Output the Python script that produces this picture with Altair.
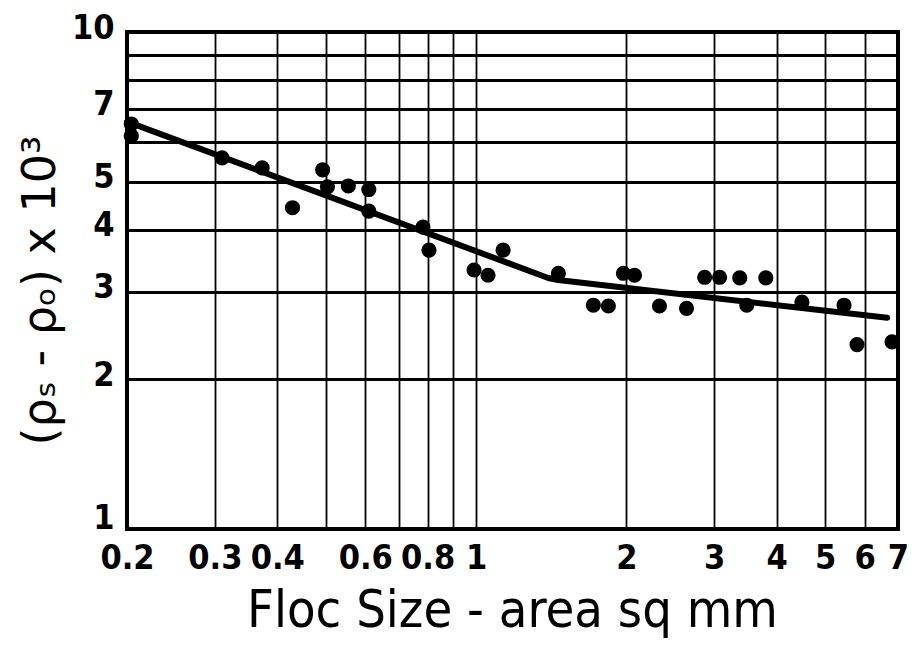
import altair as alt
import pandas as pd

# data
x_pts = [0.204, 0.204, 0.310, 0.373, 0.429, 0.493, 0.504, 0.555, 0.610, 0.610,
         0.783, 0.805, 0.991, 1.057, 1.133, 1.462, 1.718, 1.841, 1.973, 2.077,
         2.330, 2.640, 2.870, 3.075, 3.374, 3.805, 3.485, 4.494, 5.458, 5.795, 6.81]
y_pts = [6.53, 6.18, 5.58, 5.33, 4.43, 5.28, 4.88, 4.90, 4.82, 4.36,
         4.05, 3.64, 3.32, 3.24, 3.64, 3.27, 2.82, 2.81, 3.27, 3.24,
         2.81, 2.78, 3.21, 3.21, 3.20, 3.20, 2.82, 2.86, 2.82, 2.35, 2.38]

line_x = [0.2, 1.395, 1.46, 6.66]
line_y = [6.6, 3.20, 3.17, 2.66]

x_grid = [0.2, 0.3, 0.4, 0.5, 0.6, 0.7, 0.8, 0.9, 1, 2, 3, 4, 5, 6, 7]
x_unlabeled = [0.5, 0.7, 0.9]
y_grid = [1, 2, 3, 4, 5, 6, 7, 8, 9, 10]
y_unlabeled = [6, 8, 9]

pts = pd.DataFrame({"x": x_pts, "y": y_pts})
ln = pd.DataFrame({"x": line_x, "y": line_y, "o": list(range(len(line_x)))})

FONT_T = "DejaVu Sans Condensed"
xs = alt.Scale(type="log", domain=[0.2, 7], nice=False, zero=False)
ys = alt.Scale(type="log", domain=[1, 10], nice=False, zero=False)

xaxis = alt.Axis(
    values=x_grid, format="~g",
    labelExpr="indexof([0.5,0.7,0.9], datum.value) >= 0 ? '' : datum.label",
    title="Floc Size - area sq mm", titleFont="DejaVu Sans Condensed",
    titleFontSize=52, titleFontWeight="normal", titleColor="black",
    titleX=385, titleY=97, titleBaseline="alphabetic", titleAnchor="middle",
    labelFont=FONT_T, labelFontSize=34, labelFontWeight="bold", labelColor="black",
    labelPadding=12, labelFlush=False, labelOverlap=False,
    grid=True, gridColor="black", gridWidth=1.8, gridOpacity=1,
    ticks=False, domain=False,
)
yaxis = alt.Axis(
    values=y_grid, format="~g",
    labelExpr="indexof([6,8,9], datum.value) >= 0 ? '' : datum.label",
    title="(ρₛ - ρₒ) x 10³", titleFont="DejaVu Sans",
    titleFontSize=46, titleFontWeight="normal", titleColor="black",
    titleX=-87, titleY=258, titleAngle=-90, titleBaseline="middle", titleAlign="center",
    labelFont=FONT_T, labelFontSize=34, labelFontWeight="bold", labelColor="black",
    labelPadding=13,
    labelOffset={"condition": {"test": "datum.value == 1", "value": -11}, "value": -4},
    labelFlush=False, labelOverlap=False, labelBaseline="middle",
    grid=True, gridColor="black", gridWidth=2.8, gridOpacity=1,
    ticks=False, domain=False,
)

line = alt.Chart(ln).mark_line(color="black", strokeWidth=6, strokeJoin="round", strokeCap="round").encode(
    x=alt.X("x:Q", scale=xs, axis=xaxis),
    y=alt.Y("y:Q", scale=ys, axis=yaxis),
    order="o:Q",
)
dots = alt.Chart(pts).mark_circle(color="black", opacity=1, size=230).encode(
    x=alt.X("x:Q", scale=xs),
    y=alt.Y("y:Q", scale=ys),
)

chart = (line + dots).properties(
    width=771, height=497,
    autosize=alt.AutoSizeParams(type="none"),
    padding={"left": 119, "top": 24, "right": 12, "bottom": 109},
    background="white",
).configure_view(stroke="black", strokeWidth=4)

chart.save("out.html", embed_options={"renderer": "svg", "actions": False})
